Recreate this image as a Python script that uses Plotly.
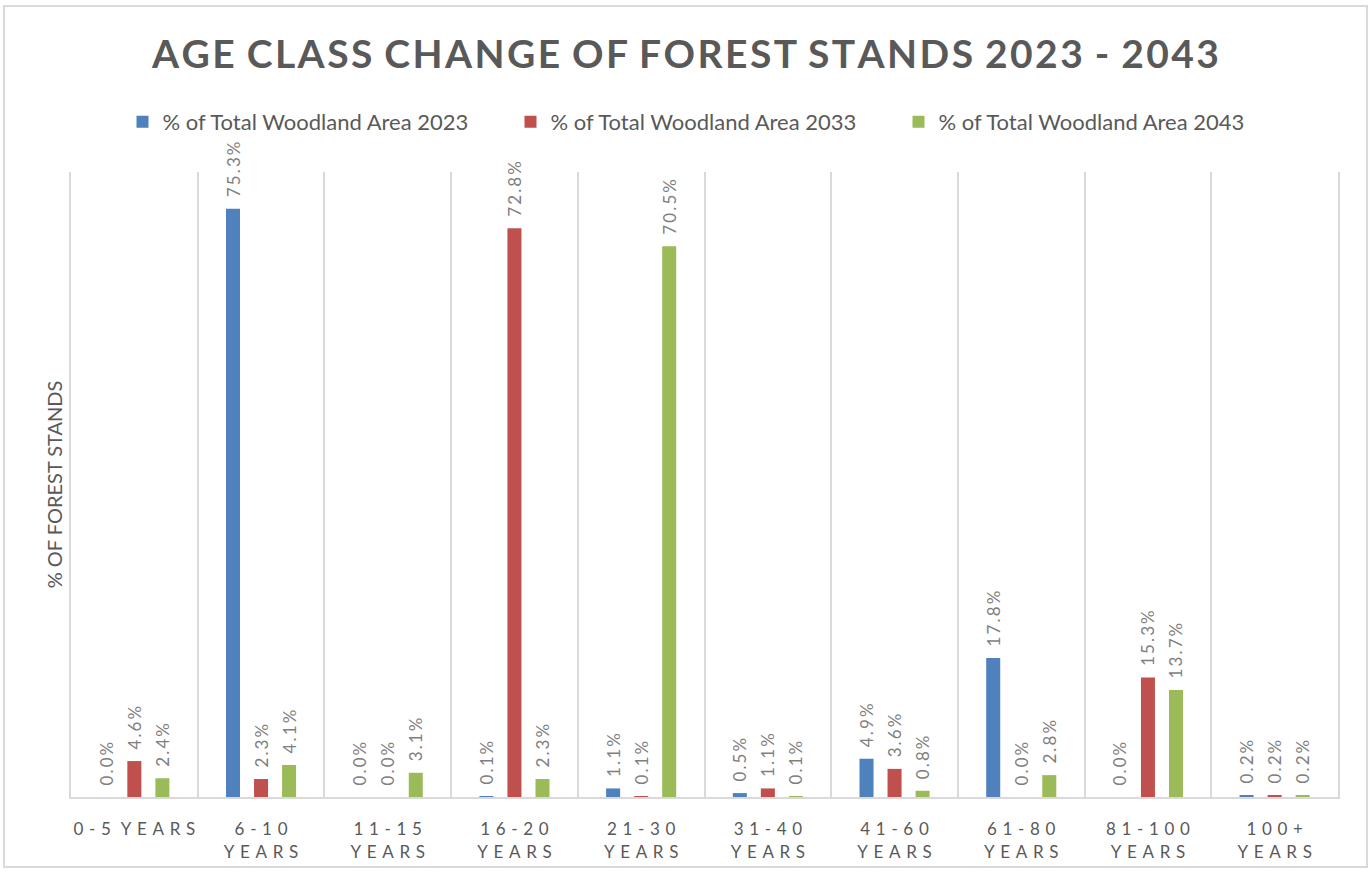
import plotly.graph_objects as go

# --- data ---
AGE_CLASSES = ["0-5 YEARS", "6-10 YEARS", "11-15 YEARS", "16-20 YEARS", "21-30 YEARS",
               "31-40 YEARS", "41-60 YEARS", "61-80 YEARS", "81-100 YEARS", "100+ YEARS"]
# how the tick labels wrap (first one stays on one line)
TICK_LINES = [["0-5 YEARS"], ["6-10", "YEARS"], ["11-15", "YEARS"], ["16-20", "YEARS"],
              ["21-30", "YEARS"], ["31-40", "YEARS"], ["41-60", "YEARS"], ["61-80", "YEARS"],
              ["81-100", "YEARS"], ["100+", "YEARS"]]

AREA_2023 = [0.0, 75.3, 0.0, 0.1, 1.1, 0.5, 4.9, 17.8, 0.0, 0.2]
AREA_2033 = [4.6, 2.3, 0.0, 72.8, 0.1, 1.1, 3.6, 0.0, 15.3, 0.2]
AREA_2043 = [2.4, 4.1, 3.1, 2.3, 70.5, 0.1, 0.8, 2.8, 13.7, 0.2]

SERIES = [
    ("% of Total Woodland Area 2023", AREA_2023, "#4f81bd"),
    ("% of Total Woodland Area 2033", AREA_2033, "#c0504d"),
    ("% of Total Woodland Area 2043", AREA_2043, "#9bbb59"),
]

FONT = "Lato, 'Open Sans', sans-serif"
DARK = "#595959"
GRID = "#d9d9d9"


def spaced(s, gap="\u2004"):
    # Excel-style letter spacing: put a narrow space between every character
    words = s.split(" ")
    return (" " + gap).join(gap.join(w) for w in words)


tick_text = ["<br>".join(spaced(line) for line in lines) for lines in TICK_LINES]

traces = []
for name, vals, color in SERIES:
    traces.append(go.Bar(
        name=name,
        x=AGE_CLASSES,
        y=vals,
        marker={"color": color, "line": {"width": 0}},
        # leading space keeps the rotated label clear of the bar top, like Excel
        text=["\u2002" + spaced(f"{v:.1f}%", "\u2009") for v in vals],
        textposition="outside",
        textangle=-90,
        constraintext="none",
        textfont={"family": FONT, "size": 17, "color": "#7f7f7f"},
        cliponaxis=False,
        hoverinfo="x+y",
    ))

fig = go.Figure(data=traces)
fig.update_layout(
    width=1371,
    height=873,
    margin={"l": 71, "r": 33, "t": 172, "b": 76, "autoexpand": False},
    paper_bgcolor="white",
    plot_bgcolor="white",
    font={"family": FONT, "color": DARK},
    barmode="group",
    bargap=0.336,
    bargroupgap=0.5,
    title={
        "text": "<b>" + spaced("AGE CLASS CHANGE OF FOREST STANDS 2023 - 2043", "\u200a") + "</b>",
        "font": {"family": FONT, "size": 39, "color": DARK},
        "x": 0.5, "xanchor": "center",
        "y": 1 - 54 / 873, "yanchor": "middle",
    },
    legend={
        "orientation": "h",
        "x": 0.5, "xanchor": "center",
        "y": 1.08, "yanchor": "middle",
        "bgcolor": "rgba(0,0,0,0)",
        "font": {"family": FONT, "size": 22, "color": DARK},
        "entrywidth": 343, "entrywidthmode": "pixels",
        "traceorder": "normal",
    },
    xaxis={
        "type": "category",
        "tickmode": "array",
        "tickvals": AGE_CLASSES,
        "ticktext": tick_text,
        "tickson": "boundaries",
        "ticks": "",
        "tickangle": 0,
        "ticklabelstandoff": 16,
        "automargin": False,
        "showgrid": True,
        "gridcolor": GRID,
        "gridwidth": 2,
        "showline": True,
        "linecolor": GRID,
        "linewidth": 2,
        "tickfont": {"family": FONT, "size": 17, "color": DARK},
        "range": [-0.5, 9.5],
    },
    yaxis={
        "range": [0, 80],
        "showgrid": False,
        "zeroline": False,
        "showticklabels": False,
        "automargin": False,
        # left/right lines stand in for the outer category-boundary gridlines
        "showline": True,
        "mirror": True,
        "linecolor": GRID,
        "linewidth": 2,
        "title": {"text": "% OF FOREST STANDS", "standoff": 1,
                  "font": {"family": FONT, "size": 20, "color": DARK}},
    },
    shapes=[{
        "type": "rect", "xref": "paper", "yref": "paper",
        "x0": -67 / 1267, "x1": 1 + 29 / 1267,
        "y0": -70 / 625, "y1": 1 + 166 / 625,
        "line": {"color": GRID, "width": 2},
        "fillcolor": "rgba(0,0,0,0)",
        "layer": "below",
    }],
)

# the page's default body margin would shift the whole figure by 8px
fig.write_html("out.html", config={"displayModeBar": False},
               post_script="document.body.style.margin = '0';")
